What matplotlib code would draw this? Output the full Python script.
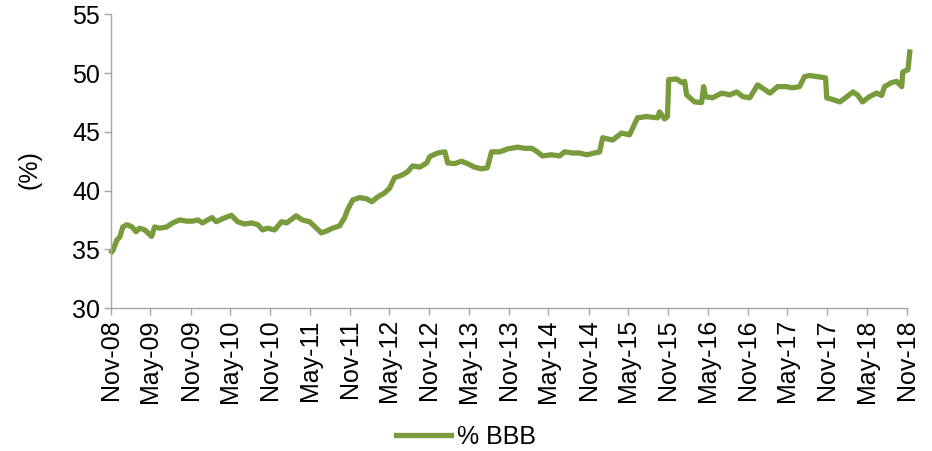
import matplotlib
matplotlib.use('Agg')
import matplotlib.pyplot as plt
import matplotlib.dates as mdates
import pandas as pd

plt.rcParams['font.family'] = ['Liberation Sans', 'DejaVu Sans']

# % of BBB-rated bonds
dates = [
    '2008-11-05', '2008-11-10', '2008-11-28', '2008-12-12', '2008-12-25', '2009-01-13',
    '2009-02-06', '2009-02-24', '2009-03-12', '2009-04-05', '2009-05-06', '2009-05-20',
    '2009-06-12', '2009-07-14', '2009-08-11', '2009-09-12', '2009-10-14', '2009-11-11',
    '2009-12-04', '2009-12-26', '2010-02-07', '2010-02-27', '2010-03-27', '2010-05-07',
    '2010-06-05', '2010-07-06', '2010-08-08', '2010-09-05', '2010-09-28', '2010-10-20',
    '2010-11-22', '2010-12-23', '2011-01-16', '2011-03-01', '2011-03-29', '2011-05-01',
    '2011-06-02', '2011-06-24', '2011-07-17', '2011-08-15', '2011-09-16', '2011-10-09',
    '2011-10-22', '2011-11-15', '2011-12-16', '2012-01-18', '2012-02-11', '2012-03-08',
    '2012-04-09', '2012-05-02', '2012-05-25', '2012-06-26', '2012-07-24', '2012-08-16',
    '2012-09-18', '2012-10-19', '2012-11-03', '2012-12-09', '2013-01-11', '2013-01-24',
    '2013-02-26', '2013-03-28', '2013-04-25', '2013-05-26', '2013-06-28', '2013-07-25',
    '2013-08-13', '2013-09-20', '2013-10-26', '2013-12-11', '2014-01-13', '2014-02-14',
    '2014-03-11', '2014-04-04', '2014-05-15', '2014-06-21', '2014-07-14', '2014-08-20',
    '2014-09-21', '2014-10-23', '2014-12-22', '2015-01-05', '2015-02-20', '2015-04-01',
    '2015-05-08', '2015-06-14', '2015-07-24', '2015-09-14', '2015-09-23', '2015-10-16',
    '2015-10-29', '2015-11-04', '2015-12-10', '2016-01-03', '2016-01-16', '2016-01-25',
    '2016-03-02', '2016-04-03', '2016-04-12', '2016-04-21', '2016-05-23', '2016-07-04',
    '2016-08-10', '2016-09-11', '2016-10-09', '2016-11-10', '2016-12-16', '2017-01-18',
    '2017-02-11', '2017-03-17', '2017-04-27', '2017-05-25', '2017-06-26', '2017-07-19',
    '2017-08-11', '2017-09-18', '2017-10-24', '2017-10-29', '2017-11-26', '2017-12-28',
    '2018-01-30', '2018-02-26', '2018-03-19', '2018-04-11', '2018-05-13', '2018-06-15',
    '2018-07-08', '2018-07-21', '2018-08-23', '2018-09-15', '2018-10-08', '2018-10-13',
    '2018-11-06', '2018-11-14',
]
pct_bbb = [
    34.8, 34.9, 35.8, 36.05, 36.9, 37.1,
    36.9, 36.5, 36.8, 36.65, 36.1, 36.9,
    36.8, 36.9, 37.25, 37.5, 37.4, 37.4,
    37.5, 37.25, 37.7, 37.35, 37.6, 37.9,
    37.35, 37.15, 37.25, 37.1, 36.65, 36.8,
    36.65, 37.35, 37.25, 37.85, 37.5, 37.35,
    36.8, 36.4, 36.55, 36.8, 37.0, 37.7,
    38.35, 39.2, 39.4, 39.3, 39.05, 39.45,
    39.8, 40.2, 41.1, 41.3, 41.6, 42.1,
    42.0, 42.35, 42.9, 43.2, 43.3, 42.35,
    42.3, 42.5, 42.3, 42.0, 41.85, 41.95,
    43.3, 43.3, 43.55, 43.7, 43.6, 43.6,
    43.3, 42.95, 43.05, 42.95, 43.3, 43.2,
    43.2, 43.05, 43.3, 44.5, 44.3, 44.9,
    44.75, 46.2, 46.3, 46.2, 46.7, 46.1,
    46.3, 49.45, 49.5, 49.2, 49.3, 48.15,
    47.55, 47.5, 48.85, 48.0, 47.9, 48.3,
    48.15, 48.4, 48.0, 47.9, 49.0, 48.6,
    48.3, 48.85, 48.85, 48.75, 48.85, 49.7,
    49.8, 49.7, 49.6, 47.9, 47.75, 47.55,
    48.0, 48.4, 48.15, 47.55, 48.0, 48.3,
    48.1, 48.85, 49.2, 49.3, 48.85, 50.1,
    50.3, 51.8,
]
tick_dates = pd.date_range('2008-11-01', '2018-11-01', freq='6MS')
y_ticks = [30, 35, 40, 45, 50, 55]

LINE_COLOR = '#789B3C'
AXIS_COLOR = '#A6A6A6'
FONT_SIZE = 18

fig = plt.figure(figsize=(9.32, 4.51), dpi=100)
ax = fig.add_axes([0.1191, 0.317, 0.854, 0.651])

x = pd.to_datetime(dates)
ax.plot(x, pct_bbb, color=LINE_COLOR, lw=3.8, solid_joinstyle='round',
        clip_on=False, label='% BBB')

ax.set_xlim(tick_dates[0], tick_dates[-1])
ax.set_ylim(30, 55)
ax.set_yticks(y_ticks)
ax.set_xticks(tick_dates)
ax.xaxis.set_major_formatter(mdates.DateFormatter('%b-%y'))
plt.setp(ax.get_xticklabels(), rotation=90)

for side in ['top', 'right']:
    ax.spines[side].set_visible(False)
for side in ['left', 'bottom']:
    ax.spines[side].set_color(AXIS_COLOR)
    ax.spines[side].set_linewidth(1.0)
ax.tick_params(axis='both', direction='out', length=5, width=1.0,
               color=AXIS_COLOR, labelsize=FONT_SIZE, labelcolor='black', pad=3)

ax.set_ylabel('(%)', fontsize=FONT_SIZE, va='center')
ax.yaxis.set_label_coords(-0.102, 0.47)

fig.legend(loc='center', bbox_to_anchor=(0.5, 0.031), frameon=False,
           fontsize=FONT_SIZE, handlelength=2.2, handletextpad=0.25)

plt.savefig('out.png', dpi=100)
plt.close()
